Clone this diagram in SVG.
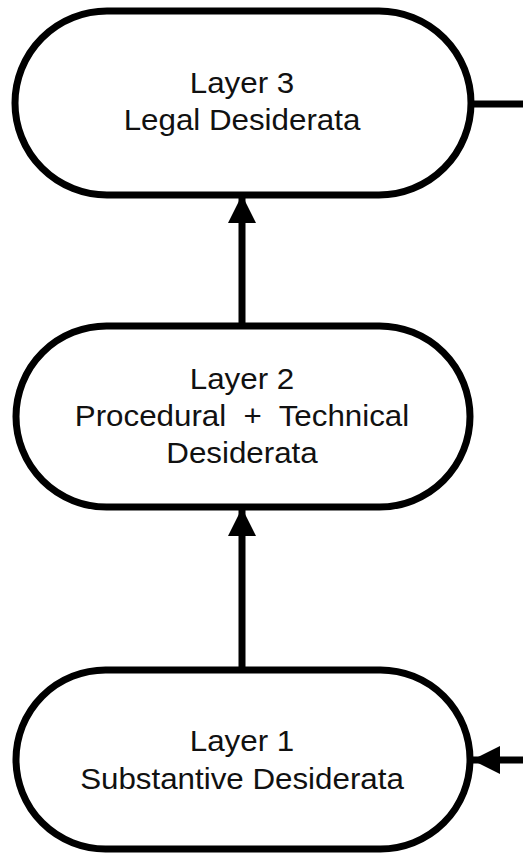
<svg xmlns="http://www.w3.org/2000/svg" width="523" height="853" viewBox="0 0 523 853">
  <defs>
    <marker id="head" viewBox="0 0 28 28" refX="27" refY="14" markerWidth="28" markerHeight="28" markerUnits="userSpaceOnUse" orient="auto">
      <path d="M0,0 L28,14 L0,28 Z" fill="#000"/>
    </marker>
  </defs>
  <style>
    .pill { fill: #fff; stroke: #000; stroke-width: 7; }
    .lbl { font-family: "Liberation Sans", Arial, sans-serif; font-size: 29px; fill: #111; text-anchor: middle; }
    .wire { fill: none; stroke: #000; stroke-width: 7; }
  </style>
  <rect width="523" height="853" fill="#fff"/>

  <g id="connectors">
    <line class="wire" x1="471" y1="104" x2="523" y2="104"/>
    <line class="wire" x1="523" y1="760" x2="473" y2="760" marker-end="url(#head)"/>
    <line class="wire" x1="242" y1="326" x2="242" y2="196" marker-end="url(#head)"/>
    <line class="wire" x1="242" y1="670" x2="242" y2="509" marker-end="url(#head)"/>
  </g>

  <!-- labels use a slightly widened face: scale x by 1.08 around the node centre -->
  <g id="layer3">
    <rect class="pill" x="15" y="11" width="456" height="184" rx="92" ry="92"/>
    <g transform="matrix(1.08 0 0 1 242 0)">
      <text class="lbl" x="0" y="93">Layer 3</text>
      <text class="lbl" x="0" y="130">Legal Desiderata</text>
    </g>
  </g>

  <g id="layer2">
    <rect class="pill" x="16" y="326" width="454" height="181" rx="90.5" ry="90.5"/>
    <g transform="matrix(1.08 0 0 1 242 0)">
      <text class="lbl" x="0" y="389">Layer 2</text>
      <text class="lbl" x="0" y="426" xml:space="preserve">Procedural  +  Technical</text>
      <text class="lbl" x="0" y="463">Desiderata</text>
    </g>
  </g>

  <g id="layer1">
    <rect class="pill" x="16" y="670" width="454" height="179" rx="89.5" ry="89.5"/>
    <g transform="matrix(1.08 0 0 1 242 0)">
      <text class="lbl" x="0" y="751">Layer 1</text>
      <text class="lbl" x="0" y="789">Substantive Desiderata</text>
    </g>
  </g>
</svg>
